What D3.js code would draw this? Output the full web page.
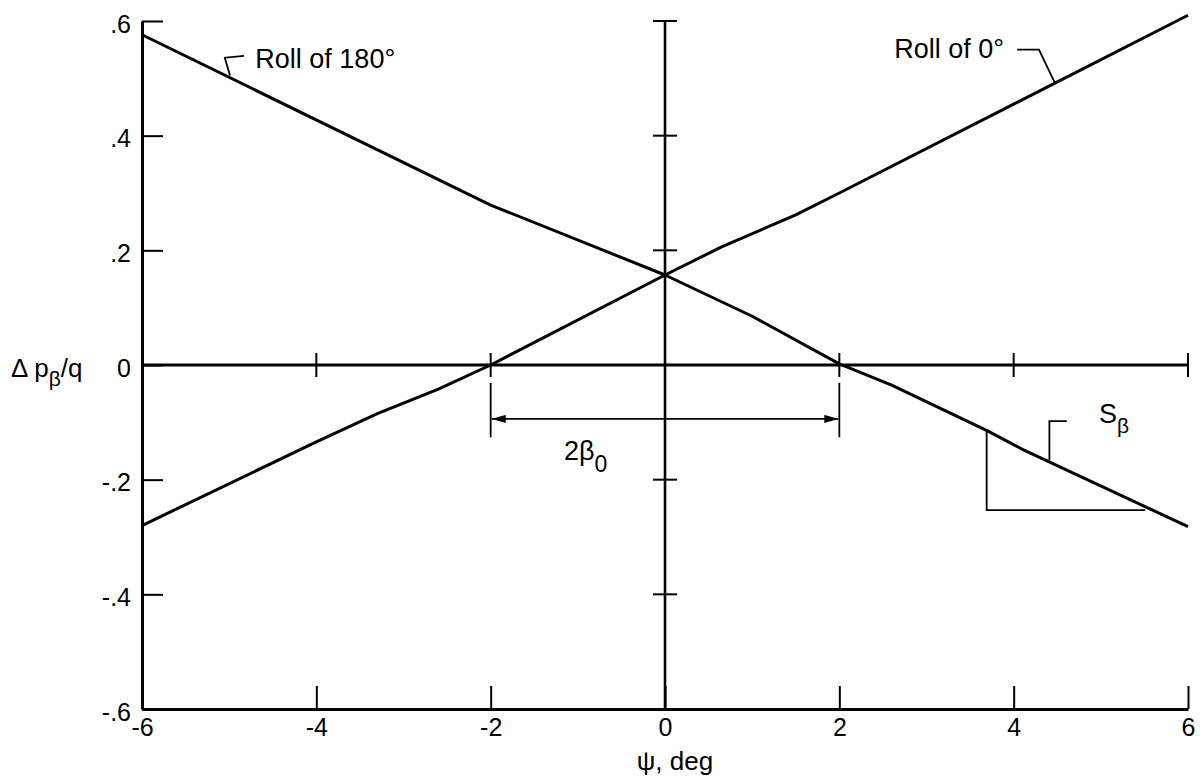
<!DOCTYPE html>
<html>
<head>
<meta charset="utf-8">
<script src="https://cdn.jsdelivr.net/npm/d3@7"></script>
<style>
    body { margin: 0; background: #fff; }
    svg { display: block; font-family: "Liberation Sans", Arial, Helvetica, sans-serif; }
</style>
</head>
<body>
<div class="canvas"></div>
<script>
// Tick values and labels
const xTicks = [-6, -4, -2, 0, 2, 4, 6];
const xTickLabels = ['-6', '-4', '-2', '0', '2', '4', '6'];
const yTicks = [0.6, 0.4, 0.2, 0, -0.2, -0.4, -0.6];
const yTickLabels = ['.6', '.4', '.2', '0', '-.2', '-.4', '-.6'];

// Roll of 0 deg curve
const roll0Psi = [-6, -4, -3.3, -2.6, -2, 0, 0.65, 1.5, 2, 4, 6];
const roll0Dp = [-0.28, -0.134, -0.085, -0.042, 0, 0.157, 0.206, 0.262, 0.3, 0.455, 0.61];

// Roll of 180 deg curve
const roll180Psi = [-6, -2, 0, 1, 2, 2.6, 3.7, 4.1, 6];
const roll180Dp = [0.576, 0.279, 0.157, 0.085, 0.002, -0.035, -0.115, -0.147, -0.282];

// Ticks drawn across the centre lines
const zeroLineTicks = [-4, -2, 2, 4, 6];
const centreLineTicks = [0.6, 0.4, 0.2, -0.2, -0.4];

const chart = {
    dims: null,
    svg: null,
    graph: null,
    x: null,
    y: null,

    init: function() {
        chart.dims = {
            svgWidth: 1203,
            svgHeight: 780,
            marginTop: 21,
            marginRight: 15,
            marginBottom: 71,
            marginLeft: 142
        };
        chart.dims.graphWidth = chart.dims.svgWidth - chart.dims.marginLeft - chart.dims.marginRight;
        chart.dims.graphHeight = chart.dims.svgHeight - chart.dims.marginTop - chart.dims.marginBottom;

        chart.svg = d3.select('.canvas')
            .append('svg')
            .attr('width', chart.dims.svgWidth)
            .attr('height', chart.dims.svgHeight);

        chart.svg.append('defs').append('marker')
            .attr('id', 'arrow')
            .attr('viewBox', '0 0 14 8')
            .attr('refX', 14)
            .attr('refY', 4)
            .attr('markerWidth', 14)
            .attr('markerHeight', 8)
            .attr('markerUnits', 'userSpaceOnUse')
            .attr('orient', 'auto-start-reverse')
            .append('path')
            .attr('d', 'M0,0 L14,4 L0,8 Z')
            .attr('fill', '#000');

        chart.graph = chart.svg.append('g')
            .attr('transform', `translate(${chart.dims.marginLeft}, ${chart.dims.marginTop})`);

        chart.x = d3.scaleLinear().domain([-6, 6]).range([0, chart.dims.graphWidth]);
        chart.y = d3.scaleLinear().domain([-0.6, 0.6]).range([chart.dims.graphHeight, 0]);

        chart.drawAxes();
        chart.drawCentreLines();
        chart.drawCurves();
        chart.drawAnnotations();
    },

    drawAxes: function() {
        const { x, y, graph } = chart;

        const yAxis = d3.axisLeft(y)
            .tickValues(yTicks)
            .tickFormat((d, i) => yTickLabels[i])
            .tickSizeInner(-21)
            .tickSizeOuter(0)
            .tickPadding(11);

        const xAxis = d3.axisBottom(x)
            .tickValues(xTicks)
            .tickFormat((d, i) => xTickLabels[i])
            .tickSizeInner(-23)
            .tickSizeOuter(0)
            .tickPadding(9);

        const yG = graph.append('g').attr('class', 'y-axis').call(yAxis);
        const xG = graph.append('g').attr('class', 'x-axis')
            .attr('transform', `translate(0, ${chart.dims.graphHeight})`)
            .call(xAxis);

        [yG, xG].forEach(g => {
            g.select('.domain').attr('stroke', '#000').attr('stroke-width', 3);
            g.selectAll('.tick line').attr('stroke', '#000').attr('stroke-width', 2);
            g.selectAll('.tick text')
                .attr('fill', '#000')
                .style('font-size', '25px');
        });
        yG.selectAll('.tick text').attr('dy', '0.45em');

        // Axis titles
        chart.svg.append('text')
            .attr('x', 675)
            .attr('y', 770)
            .attr('text-anchor', 'middle')
            .style('font-size', '26px')
            .text('ψ, deg');

        const yTitle = chart.svg.append('text')
            .attr('x', 11)
            .attr('y', 377)
            .style('font-size', '26px');
        yTitle.append('tspan').text('Δ p');
        yTitle.append('tspan').attr('dy', 9).style('font-size', '21px').text('β');
        yTitle.append('tspan').attr('dy', -9).text('/q');
    },

    drawCentreLines: function() {
        const { x, y, graph } = chart;
        const half = 12;

        // Horizontal zero line
        graph.append('line')
            .attr('x1', x(-6)).attr('x2', x(6))
            .attr('y1', y(0)).attr('y2', y(0))
            .attr('stroke', '#000').attr('stroke-width', 3);

        graph.selectAll('.zero-tick')
            .data(zeroLineTicks)
            .enter()
            .append('line')
                .attr('class', 'zero-tick')
                .attr('x1', d => x(d)).attr('x2', d => x(d))
                .attr('y1', y(0) - half).attr('y2', y(0) + half)
                .attr('stroke', '#000').attr('stroke-width', 2);

        // Vertical centre line
        graph.append('line')
            .attr('x1', x(0)).attr('x2', x(0))
            .attr('y1', y(0.6)).attr('y2', y(-0.6))
            .attr('stroke', '#000').attr('stroke-width', 2.6);

        graph.selectAll('.centre-tick')
            .data(centreLineTicks)
            .enter()
            .append('line')
                .attr('class', 'centre-tick')
                .attr('x1', x(0) - half).attr('x2', x(0) + half)
                .attr('y1', d => y(d)).attr('y2', d => y(d))
                .attr('stroke', '#000').attr('stroke-width', 2);
    },

    drawCurves: function() {
        const { x, y, graph } = chart;
        const line = d3.line()
            .x(d => x(d[0]))
            .y(d => y(d[1]));

        const series = [
            d3.zip(roll0Psi, roll0Dp),
            d3.zip(roll180Psi, roll180Dp)
        ];

        graph.selectAll('.curve')
            .data(series)
            .enter()
            .append('path')
                .attr('class', 'curve')
                .attr('d', line)
                .attr('fill', 'none')
                .attr('stroke', '#000')
                .attr('stroke-width', 3)
                .attr('stroke-linejoin', 'round');
    },

    drawAnnotations: function() {
        const { x, y, graph } = chart;
        const leader = d3.line().x(d => x(d[0])).y(d => y(d[1]));
        const thin = g => g.attr('fill', 'none').attr('stroke', '#000').attr('stroke-width', 1.8);

        // Roll of 180 deg label
        graph.append('path')
            .attr('d', leader([[-4.83, 0.539], [-5.05, 0.536], [-4.99, 0.505]]))
            .call(thin);
        graph.append('text')
            .attr('x', x(-4.70)).attr('y', y(0.518))
            .style('font-size', '27px')
            .text('Roll of 180°');

        // Roll of 0 deg label
        graph.append('path')
            .attr('d', leader([[4.04, 0.550], [4.29, 0.550], [4.47, 0.493]]))
            .call(thin);
        graph.append('text')
            .attr('x', x(2.63)).attr('y', y(0.536))
            .style('font-size', '27px')
            .text('Roll of 0°');

        // 2 beta0 dimension
        [-2, 2].forEach(d => {
            graph.append('line')
                .attr('x1', x(d)).attr('x2', x(d))
                .attr('y1', y(-0.031)).attr('y2', y(-0.126))
                .call(thin);
        });
        graph.append('line')
            .attr('x1', x(-2) + 1).attr('x2', x(2) - 1)
            .attr('y1', y(-0.094)).attr('y2', y(-0.094))
            .call(thin)
            .attr('marker-start', 'url(#arrow)')
            .attr('marker-end', 'url(#arrow)');

        const beta0 = graph.append('text')
            .attr('x', x(-1.16)).attr('y', y(-0.166))
            .style('font-size', '27px');
        beta0.append('tspan').text('2β');
        beta0.append('tspan').attr('dy', 12).style('font-size', '23px').text('0');

        // S beta slope triangle
        graph.append('path')
            .attr('d', leader([[3.69, -0.112], [3.69, -0.253], [5.51, -0.253]]))
            .call(thin);
        graph.append('path')
            .attr('d', leader([[4.41, -0.166], [4.41, -0.098], [4.61, -0.098]]))
            .call(thin);

        const sBeta = graph.append('text')
            .attr('x', x(4.98)).attr('y', y(-0.101))
            .style('font-size', '27px');
        sBeta.append('tspan').text('S');
        sBeta.append('tspan').attr('dy', 10).style('font-size', '21px').text('β');
    }
};

document.addEventListener('DOMContentLoaded', chart.init);
</script>
</body>
</html>
